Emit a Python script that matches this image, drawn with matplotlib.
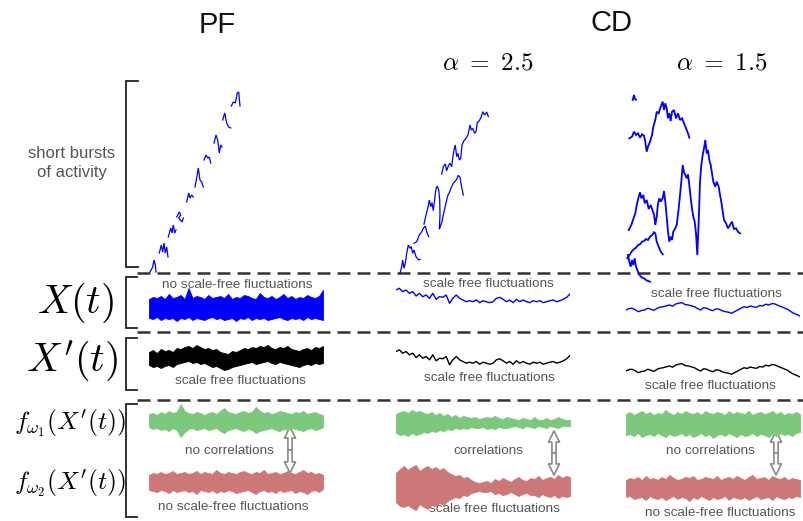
import numpy as np
import matplotlib.pyplot as plt
from matplotlib.patches import FancyArrowPatch

plt.rcParams['font.family'] = ['Liberation Sans', 'DejaVu Sans']
plt.rcParams['mathtext.fontset'] = 'cm'

W, H = 804, 521

# ---- burst strands (time, activity) ----
pf_bursts = [
    ([10, 12.7, 14, 15.3, 16], [3, 8, 15, 10, 3]),
    ([19.3, 21.3, 22.7, 24, 25.3, 26.7, 28], [22, 30, 23, 32, 22, 28, 18]),
    ([28.3, 30.7, 32, 33.3, 34.7, 36], [38, 47, 42, 50, 42, 45]),
    ([36.7, 39.3, 40.7, 38.7, 42, 43.3], [58, 63, 60, 57, 53, 57]),
    ([46.7, 48.7, 50, 51.7, 53.3], [73, 82, 77, 80, 78]),
    ([55, 56.7, 58.3, 60, 61.7, 63.3], [88, 97, 107, 95, 93, 88]),
    ([64, 66, 67.7, 69.3, 70.7], [115, 120, 117, 118, 112]),
    ([74, 76, 77.7, 79.3, 80.7, 82], [132, 140, 135, 122, 130, 128]),
    ([82.7, 84.7, 86.7, 88.7, 90.7], [155, 162, 152, 148, 147]),
    ([91.3, 93.3, 95.3, 97.3, 98.7, 100], [169, 173, 172, 182, 183, 169]),
]

cd25_bursts = [
    ([10, 11.7, 12.7, 14, 15.3, 16.7, 18.3, 20, 21.3, 22.7, 24, 26, 28.7, 30],
     [6.7, 13.3, 20, 11.7, 16.7, 26.7, 35, 31.7, 33.3, 26.7, 30, 23.3, 20, 20.7]),
    ([24, 26.7, 29.3, 31.7, 33.3, 35.3, 36.7, 38.7],
     [36.7, 38.3, 45, 48.3, 51.7, 54, 48.3, 43.3]),
    ([34, 36, 38, 39.3, 40.7, 42, 43.3, 44.7, 46, 47.3, 48.7, 49.7, 50, 49.3,
      51.7, 53.3, 55, 56.7, 58, 59.3, 61.3, 63.3, 65.3, 66.7, 68.3, 70, 71.7, 73.3],
     [56, 65, 72.7, 80, 73.3, 77.3, 69.3, 81.3, 91.3, 94, 90, 80, 65, 50.7,
      57.3, 65, 72.7, 80, 85, 87.3, 92.7, 96.7, 99, 100.7, 104.7, 102.7, 92.7, 85]),
    ([51.7, 53.3, 55.3, 56.7, 58.3, 60, 61.7, 62.7, 64, 65.3, 66.7, 68, 69.3, 70.7,
      72, 74, 76, 78, 80, 81.3, 82.7, 84.7, 86, 87.3, 89.3, 91.3, 92.7, 94.7, 96.7, 98.3],
     [106, 113.3, 116, 109.3, 114, 116.7, 113.3, 121.7, 130, 135, 123.3, 126.7, 120, 121.7,
      135, 139.3, 141.7, 145, 155, 150, 151.7, 146.7, 148.3, 157.3, 159.3, 163.3, 168.3, 165, 168, 163.3]),
]

cd15_bursts = [
    ([12.7, 14, 15, 16], [185, 190, 186, 185.3]),
    ([9.3, 12, 14, 16, 18, 20, 22, 24, 25.3, 26.7, 28, 30, 32, 33.3, 35.3, 36.7, 38.7, 40.7,
      42.7, 44, 45.3, 46.7, 48, 49.3, 50.7, 52, 54, 56, 58, 60, 62, 64, 66, 68, 69.3],
     [146.7, 148.3, 153.3, 150, 151.7, 147.3, 150.7, 149.3, 143.3, 133.3, 138.3, 143.3, 150,
      158.3, 165, 173.3, 171.7, 178.3, 183.3, 175, 181.7, 176.7, 166.7, 171.7, 164, 173.3,
      175, 166.7, 171.7, 165, 166.7, 161.7, 156.7, 151.7, 147.3]),
    ([8.7, 11.3, 13.3, 15.3, 16.7, 18.7, 20, 21.3, 23.3, 24.7, 26.7, 28.7, 30.7, 32.7, 34,
      35.3, 36.7, 38, 39.3, 40.7, 42.7, 44, 45.3, 46.7, 48, 49.3, 50.7, 52, 53.3, 55.3, 56.7,
      58.7, 60, 61.3, 62.7, 64, 65.3, 66.7, 68, 69.3, 70.7, 72, 73.3, 74.7, 76, 77.3, 78.7,
      80, 81.3, 82.7, 84, 85.3, 86.7, 88, 89.3, 90.7, 92, 93.3, 95.3, 96.7, 98.7, 100,
      101.3, 102.7, 104, 106, 108, 110, 112, 114, 116, 118, 120],
     [55, 60, 66, 71.7, 80, 88.3, 92.7, 86.7, 90, 81.7, 85, 76, 80, 74, 70.7, 60, 68.3, 81.7,
      86.7, 83.3, 86.7, 94, 83.3, 68.3, 53.3, 43.3, 48.3, 45, 53.3, 56.7, 60, 76.7, 90,
      103.3, 120, 112.7, 110, 106.7, 110.7, 100, 86.7, 76.7, 68.3, 63.3, 51.7, 30, 63.3,
      103.3, 120, 130, 136.7, 145, 131.7, 135, 125, 120, 111.7, 103.3, 98.3, 103.3, 98.3,
      90, 83.3, 73.3, 65, 61.7, 56.7, 60, 63.3, 56, 56.7, 53.3, 51.7]),
    ([7.3, 10, 12, 14, 16, 18, 20, 22, 24, 26, 28, 30, 32, 34, 35.3, 36.7, 38.7, 40.7, 42.7],
     [26.7, 30.7, 34, 36, 37.3, 40, 40.7, 43.3, 44, 46, 45, 48.3, 50, 52.7, 51.7, 43.3, 38.3, 33.3, 30.7]),
    ([8, 9.3, 10.7, 12, 13.3, 14.7, 16, 17.3, 18.7, 20, 22, 24, 26, 28, 30],
     [30, 23.3, 18.3, 25, 20, 26.7, 18.3, 15, 11.7, 9.3, 7.3, 6.7, 5, 4, 3.3]),
]

# ---- X(t) / X'(t) signals ----
pf_x_upper = [9, 11, 10, 12, 9, 14, 10, 11, 13, 9, 20, 10, 12, 11, 9, 13, 10, 11, 12, 10, 14, 9, 11,
              10, 13, 12, 10, 9, 15, 11, 10, 12, 9, 11, 14, 10, 12, 9, 11, 10, 13, 11, 10, 12, 18]
pf_x_lower = [-10, -11, -9, -12, -10, -11, -10, -13, -10, -11, -9, -12, -10, -11, -12, -10, -9, -11,
              -10, -12, -11, -10, -13, -10, -11, -9, -12, -10, -11, -10, -12, -11, -10, -9, -11, -12,
              -10, -11, -10, -12, -9, -11, -10, -11, -12]
pf_xp_upper = [6, 8, 5, 9, 7, 8, 6, 10, 9, 11, 12, 10, 13, 11, 9, 10, 8, 9, 6, 5, 4, 7, 6, 8, 10, 9,
               11, 10, 12, 11, 13, 10, 9, 11, 10, 12, 9, 8, 7, 9, 10, 8, 11, 10, 12]
pf_xp_lower = [-7, -9, -8, -10, -8, -7, -9, -6, -5, -4, -3, -5, -4, -6, -5, -7, -9, -8, -10, -12, -11,
               -9, -8, -7, -6, -5, -4, -6, -5, -4, -3, -5, -6, -4, -5, -6, -7, -8, -9, -7, -6, -7,
               -5, -6, -5]

cd25_x = [7, 8.7, 5.3, 7, 3.7, 5.3, 1, 3.7, 0.3, 2, -1.3, 3.7, -2.3, 0.3, -0.3, 2, -6.3, -1.3, 2,
          -1.3, -3, -4.7, -3.7, -4.7, -3, -5.7, -3.7, -4.7, -5.7, -4.7, -1.3, -0.3, -2.3, -4.7, -3,
          -5.7, -2.3, -4.7, -3, -4.7, -5.7, -3.7, -4.7, -3.7, -5.7, -4.7, -3.7, -3, -4.7, -3.7,
          -2.3, -0.3, 3]
cd15_x = [0, 1.5, 1.7, 0.2, -1.7, -0.5, 0, 1.8, 0.7, -0.3, 1.7, 2.8, 3.3, 4.2, 5, 3.8, 6, 6.8,
          7.3, 5.5, 5, 4.2, 3.3, 1.5, 0, 2.3, 1.7, 0.2, -0.7, 1.2, 0.7, -0.8, -1.7, -2.2, -3.3,
          -1.5, 0, 1.8, 3.3, 2.5, 4, 3.2, 2.7, 4.5, 4, 5.8, 5, 6.5, 6, 4.5, 3.3, 2.0, 0.7, -1.5,
          -3.3, -4.5, -6]

# ---- band-passed components (upper / lower envelopes) ----
pf_f1_upper = [7, 8, 6, 9, 7, 10, 8, 9, 17, 10, 8, 7, 9, 8, 6, 8, 9, 7, 10, 13, 9, 8, 7, 9, 10, 8,
               9, 14, 10, 8, 9, 7, 8, 10, 9, 8, 7, 9, 8, 10, 7, 8, 9, 7, 6]
pf_f1_lower = [-6, -8, -7, -9, -8, -10, -7, -9, -16, -11, -8, -7, -9, -8, -7, -9, -8, -7, -10, -12,
               -9, -8, -7, -9, -10, -8, -9, -12, -10, -9, -8, -7, -9, -10, -8, -9, -7, -8, -9, -10,
               -8, -7, -9, -8, -6]
pf_f2_upper = [7, 9, 8, 10, 8, 9, 11, 8, 9, 10, 8, 9, 11, 8, 10, 9, 8, 12, 9, 8, 10, 9, 8, 10, 11,
               9, 8, 10, 9, 12, 8, 9, 10, 8, 9, 11, 9, 8, 10, 12, 9, 10, 8, 9, 7]
pf_f2_lower = [-8, -9, -10, -8, -9, -11, -8, -10, -9, -8, -10, -9, -12, -8, -9, -10, -8, -11, -9,
               -10, -8, -9, -11, -10, -9, -8, -10, -12, -9, -8, -10, -9, -11, -8, -10, -9, -8, -11,
               -9, -10, -12, -9, -8, -10, -7]

cd25_f1_upper = [9, 11, 12, 10, 13, 11, 12, 10, 9, 11, 8, 10, 7, 9, 6, 8, 5, 7, 6, 5, 6, 4, 5, 6, 5,
                 7, 5, 4, 6, 5, 4, 3, 5, 4, 3, 6, 3, 3, 5, 3, 4, 6, 4, 3, 3]
cd25_f1_lower = [-10, -12, -11, -13, -10, -12, -11, -9, -10, -8, -9, -7, -8, -6, -7, -5, -6, -5, -6,
                 -4, -5, -5, -4, -6, -5, -6, -4, -5, -5, -4, -3, -4, -5, -3, -4, -5, -3, -4, -5, -3,
                 -4, -5, -3, -3, -3]
cd25_f2_upper = [14, 18, 21, 17, 20, 22, 16, 19, 21, 18, 20, 17, 19, 15, 13, 11, 12, 9, 10, 7, 5, 4,
                 5, 6, 4, 8, 6, 9, 7, 5, 8, 10, 7, 6, 9, 8, 11, 7, 9, 10, 8, 12, 9, 11, 10]
cd25_f2_lower = [-15, -19, -20, -18, -21, -23, -17, -20, -22, -18, -19, -16, -18, -14, -12, -10, -11,
                 -8, -9, -6, -5, -4, -5, -5, -4, -7, -6, -8, -7, -5, -7, -9, -7, -6, -8, -8, -10,
                 -7, -9, -10, -8, -11, -9, -10, -9]

cd15_f1_upper = [10, 12, 9, 11, 13, 10, 12, 9, 11, 10, 14, 11, 9, 12, 10, 13, 11, 10, 12, 9, 13, 11,
                 10, 12, 11, 9, 13, 10, 12, 11, 10, 13, 9, 11, 12, 10, 11, 13, 10, 12, 9, 11, 10, 12, 10]
cd15_f1_lower = [-11, -10, -12, -9, -13, -11, -10, -12, -9, -11, -13, -10, -12, -11, -9, -12, -10,
                 -13, -11, -9, -12, -10, -14, -11, -10, -12, -9, -11, -13, -10, -12, -11, -9, -12,
                 -10, -11, -13, -10, -12, -9, -11, -10, -12, -9, -8]
cd15_f2_upper = [8, 10, 9, 11, 8, 12, 9, 10, 8, 11, 9, 13, 10, 8, 9, 11, 10, 12, 8, 9, 11, 10, 9,
                 12, 8, 10, 11, 9, 12, 10, 8, 11, 13, 9, 10, 11, 8, 12, 10, 9, 11, 8, 10, 9, 8]
cd15_f2_lower = [-9, -8, -11, -10, -9, -12, -8, -10, -11, -9, -12, -10, -8, -11, -9, -10, -13, -9,
                 -11, -8, -10, -12, -9, -11, -10, -8, -12, -9, -10, -11, -9, -12, -10, -8, -11, -10,
                 -9, -12, -8, -10, -11, -9, -10, -8, -9]

BLUE = '#0000ff'
GREEN = '#7cc87c'
RED = '#cc7878'
NOTE = '#555555'

fig = plt.figure(figsize=(W / 100, H / 100), dpi=100)
ax = fig.add_axes([0, 0, 1, 1])
ax.set_xlim(0, W)
ax.set_ylim(H, 0)
ax.axis('off')


def px_axes(x0, y0, x1, y1):
    a = fig.add_axes([x0 / W, 1 - y1 / H, (x1 - x0) / W, (y1 - y0) / H])
    a.axis('off')
    return a


def draw_bursts(box, strands, lw):
    x0, y0, x1, y1 = box
    a = px_axes(x0, y0, x1, y1)
    a.set_xlim(0, x1 - x0)
    a.set_ylim(0, y1 - y0)
    for t, act in strands:
        a.plot(t, act, color=BLUE, lw=lw, solid_joinstyle='miter')


def draw_band(x0, x1, yc, upper, lower, color, half=26):
    a = px_axes(x0, yc - half, x1, yc + half)
    a.set_xlim(0, len(upper) - 1)
    a.set_ylim(-half, half)
    t = np.arange(len(upper))
    a.fill_between(t, lower, upper, color=color, lw=0.6)


def draw_trace(x0, x1, yc, vals, color, half=15):
    a = px_axes(x0, yc - half, x1, yc + half)
    a.set_xlim(0, len(vals) - 1)
    a.set_ylim(-half, half)
    a.plot(np.arange(len(vals)), vals, color=color, lw=1.0)


def bracket(y0, y1, x=126, x2=137):
    ax.plot([x2, x, x, x2], [y0, y0, y1, y1], color='#222222', lw=1.3,
            solid_joinstyle='miter')


def double_arrow(x, y0, y1):
    ym = (y0 + y1) / 2
    for tip in (y0, y1):
        arr = FancyArrowPatch((x, ym), (x, tip),
                              arrowstyle='simple,head_length=8,head_width=8,tail_width=3',
                              mutation_scale=1, shrinkA=0, shrinkB=0,
                              facecolor='white', edgecolor='#8a8a8a', lw=1.2)
        ax.add_patch(arr)


# headings
ax.text(217, 25, 'PF', fontsize=21, ha='center', va='center', color='#111111')
ax.text(612, 23, 'CD', fontsize=21, ha='center', va='center', color='#111111')
ax.text(488, 62, r'$\alpha\ =\ 2.5$', fontsize=18, ha='center', va='center')
ax.text(722, 62, r'$\alpha\ =\ 1.5$', fontsize=18, ha='center', va='center')

# row labels and brackets
ax.text(72, 163, 'short bursts\nof activity', fontsize=12, ha='center', va='center',
        color=NOTE, linespacing=1.25)
ax.text(114, 303, r'$X(t)$', fontsize=29, ha='right', va='center')
ax.text(118, 361, r"$X'(t)$", fontsize=29, ha='right', va='center')
ax.text(126, 423, r"$f_{\omega_1}(X'(t))$", fontsize=18.5, ha='right', va='center')
ax.text(126, 483, r"$f_{\omega_2}(X'(t))$", fontsize=18.5, ha='right', va='center')
bracket(81, 267, x2=138)
bracket(277, 328)
bracket(338, 390)
bracket(404, 517)

# separators
for y in (273, 332, 400):
    ax.plot([137, W], [y, y], color='#333333', lw=1.8, dashes=(5.2, 2.8))

# bursts
draw_bursts((140, 80, 250, 275), pf_bursts, 0.9)
draw_bursts((390, 100, 500, 280), cd25_bursts, 0.9)
draw_bursts((620, 85, 750, 285), cd15_bursts, 1.3)

# X(t)
draw_band(149, 323, 308, pf_x_upper, pf_x_lower, BLUE)
draw_trace(396, 570, 297, cd25_x, BLUE)
draw_trace(626, 800, 310, cd15_x, BLUE)

# X'(t)
draw_band(149, 323, 358, pf_xp_upper, pf_xp_lower, 'black')
draw_trace(396, 570, 358.5, cd25_x, 'black')
draw_trace(626, 800, 371, cd15_x, 'black')

# band-passed components
draw_band(149, 323, 421, pf_f1_upper, pf_f1_lower, GREEN)
draw_band(149, 323, 482, pf_f2_upper, pf_f2_lower, RED)
draw_band(396, 570, 423, cd25_f1_upper, cd25_f1_lower, GREEN)
draw_band(396, 570, 487, cd25_f2_upper, cd25_f2_lower, RED)
draw_band(626, 800, 424, cd15_f1_upper, cd15_f1_lower, GREEN)
draw_band(626, 800, 488, cd15_f2_upper, cd15_f2_lower, RED)

double_arrow(290, 427, 473)
double_arrow(554, 431, 475)
double_arrow(776, 431, 475)

# annotations
notes = [
    (237, 285, 'no scale-free fluctuations'),
    (240, 381, 'scale free fluctuations'),
    (229, 451, 'no correlations'),
    (233, 507, 'no scale-free fluctuations'),
    (488, 284, 'scale free fluctuations'),
    (489, 378, 'scale free fluctuations'),
    (488, 451, 'correlations'),
    (494, 509, 'scale free fluctuations'),
    (716, 294, 'scale free fluctuations'),
    (710, 386, 'scale free fluctuations'),
    (710, 451, 'no correlations'),
    (720, 513, 'no scale-free fluctuations'),
]
for x, y, s in notes:
    ax.text(x, y, s, fontsize=9.7, ha='center', va='center', color=NOTE)

fig.savefig('out.png', dpi=100)
